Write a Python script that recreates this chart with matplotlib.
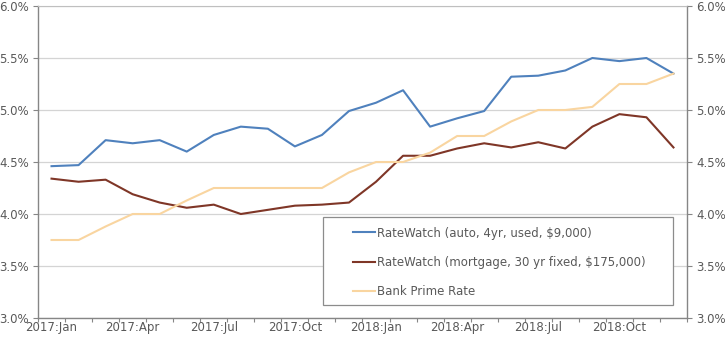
import numpy as np
import matplotlib
matplotlib.use('Agg')
import matplotlib.pyplot as plt
from matplotlib.patches import Rectangle

# monthly rates, 2017:Jan .. 2018:Dec (percent)
months = ['2017:Jan', '2017:Feb', '2017:Mar', '2017:Apr', '2017:May', '2017:Jun',
          '2017:Jul', '2017:Aug', '2017:Sep', '2017:Oct', '2017:Nov', '2017:Dec',
          '2018:Jan', '2018:Feb', '2018:Mar', '2018:Apr', '2018:May', '2018:Jun',
          '2018:Jul', '2018:Aug', '2018:Sep', '2018:Oct', '2018:Nov', '2018:Dec']
auto_rate = [4.46, 4.47, 4.71, 4.68, 4.71, 4.60, 4.76, 4.84, 4.82, 4.65, 4.76, 4.99,
             5.07, 5.19, 4.84, 4.92, 4.99, 5.32, 5.33, 5.38, 5.50, 5.47, 5.50, 5.35]
mortgage_rate = [4.34, 4.31, 4.33, 4.19, 4.11, 4.06, 4.09, 4.00, 4.04, 4.08, 4.09, 4.11,
                 4.31, 4.56, 4.56, 4.63, 4.68, 4.64, 4.69, 4.63, 4.84, 4.96, 4.93, 4.64]
prime_rate = [3.75, 3.75, 3.88, 4.00, 4.00, 4.13, 4.25, 4.25, 4.25, 4.25, 4.25, 4.40,
              4.50, 4.50, 4.59, 4.75, 4.75, 4.89, 5.00, 5.00, 5.03, 5.25, 5.25, 5.35]
series_names = ['RateWatch (auto, 4yr, used, $9,000)',
                'RateWatch (mortgage, 30 yr fixed, $175,000)',
                'Bank Prime Rate']
colors = ['#4f81bd', '#7f3627', '#f9d5a0']
y_ticks = [3.0, 3.5, 4.0, 4.5, 5.0, 5.5, 6.0]

txt = '#595959'
axc = '#868686'
plt.rcParams['font.family'] = ['DejaVu Sans']
plt.rcParams['font.size'] = 8.5

fig = plt.figure(figsize=(7.25, 3.38), dpi=100)
ax = fig.add_axes([38/725, 20/338, 649/725, 312/338])

x = np.arange(len(months))
for vals, name, c in zip([auto_rate, mortgage_rate, prime_rate], series_names, colors):
    ax.plot(x, vals, color=c, lw=1.5, label=name, zorder=3)

ax.set_xlim(-0.5, len(months) - 0.5)
ax.set_ylim(3.0, 6.0)

# gridlines
for v in y_ticks:
    ax.axhline(v, color='#d4d4d4', lw=0.9, zorder=1)

ax.set_yticks(y_ticks)
ax.set_yticklabels(['%.1f%%' % v for v in y_ticks], color=txt)
ax.tick_params(axis='y', length=3.5, width=0.8, color=axc, pad=3)

# category axis: ticks between months, labels every quarter
ax.set_xticks(np.arange(-0.5, len(months), 1.0))
ax.set_xticklabels([])
ax.set_xticks(x[::3], minor=True)
ax.set_xticklabels(months[::3], minor=True, color=txt)
ax.tick_params(axis='x', which='major', length=3, width=0.8, color=axc)
ax.tick_params(axis='x', which='minor', length=0, pad=2)

for s in ['left', 'right', 'bottom']:
    ax.spines[s].set_color(axc)
    ax.spines[s].set_linewidth(1.0)
ax.spines['top'].set_color('#bfbfbf')
ax.spines['top'].set_linewidth(0.8)

ax2 = ax.twinx()
ax2.set_ylim(3.0, 6.0)
ax2.set_yticks(y_ticks)
ax2.set_yticklabels(['%.1f%%' % v for v in y_ticks], color=txt)
ax2.tick_params(axis='y', length=3.5, width=0.8, color=axc, pad=3)
for s in ax2.spines.values():
    s.set_visible(False)

# legend box
box = Rectangle(((323-38)/649, (318-305)/312), 350/649, 88/312, transform=ax.transAxes,
                facecolor='white', edgecolor='#8c8c8c', lw=0.9, zorder=4)
ax.add_patch(box)
leg = ax.legend(loc='upper left', bbox_to_anchor=((353-38)/649, (318-226.5)/312),
                frameon=False, handlelength=1.86, handletextpad=0.17,
                labelspacing=1.38, borderpad=0, borderaxespad=0)
leg.set_zorder(5)
for t in leg.get_texts():
    t.set_color(txt)

fig.savefig('out.png', dpi=100)
